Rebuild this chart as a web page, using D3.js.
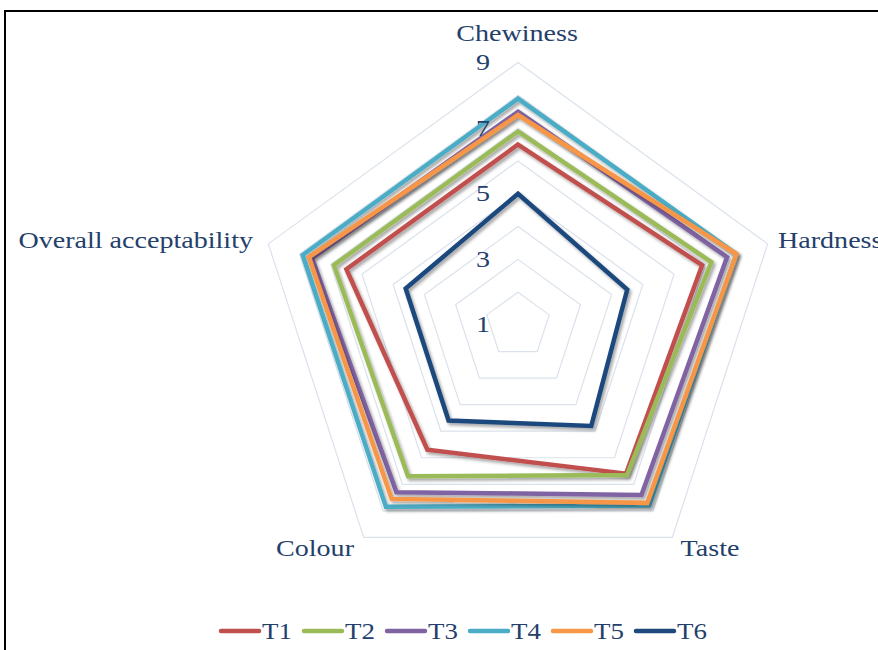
<!DOCTYPE html>
<html>
<head>
<meta charset="utf-8">
<script src="https://cdn.jsdelivr.net/npm/d3@7"></script>
<style>
  body { margin: 0; background: #fff; }
  svg text { font-family: "Liberation Serif", "Times New Roman", serif; fill: #243f6b; }
</style>
</head>
<body>
<div id="chart"></div>
<script>
var width = 878, height = 650;

// axes and series
var axes = ["Chewiness", "Hardness", "Taste", "Colour", "Overall acceptability"];
var series = ["T1", "T2", "T3", "T4", "T5", "T6"];
var colors = ["#c0504d", "#9bbb59", "#8064a2", "#4bacc6", "#f79646", "#1f497d"];
var T1 = [6.5, 6.9, 6.6, 5.7, 6.5];
var T2 = [6.9, 7.2, 6.65, 6.7, 6.9];
var T3 = [7.5, 7.7, 7.4, 7.3, 7.6];
var T4 = [7.9, 8.0, 7.8, 7.85, 7.9];
var T5 = [7.4, 8.0, 7.7, 7.55, 7.7];
var T6 = [5.0, 4.5, 4.8, 4.6, 4.6];
var values = [T1, T2, T3, T4, T5, T6];
var tickLabels = [1, 3, 5, 7, 9];
var gridLevels = [2, 3, 4, 5, 6, 7, 8, 9];

var cx = 518, cy = 325;
var stretch = 1.17; // the text in the picture is drawn wide

var svg = d3.select("#chart").append("svg").attr("width", width).attr("height", height);

var defs = svg.append("defs");
var f = defs.append("filter").attr("id", "shadow")
    .attr("x", "-10%").attr("y", "-10%").attr("width", "130%").attr("height", "130%");
f.append("feDropShadow").attr("dx", 2).attr("dy", 2.5).attr("stdDeviation", 1.5)
    .attr("flood-color", "#000").attr("flood-opacity", 0.35);

// outer frame
svg.append("rect").attr("x", 5).attr("y", 11).attr("width", 900).attr("height", 700)
    .attr("fill", "none").attr("stroke", "#000").attr("stroke-width", 2);

var r = d3.scaleLinear().domain([1, 9]).range([0, 262.5]);
var angle = d3.scalePoint().domain(d3.range(axes.length + 1)).range([0, 2 * Math.PI]);

function pt(i, v) {
  var a = angle(i % axes.length);
  return [cx + Math.sin(a) * r(v), cy - Math.cos(a) * r(v)];
}

var line = d3.line();

// grid pentagons
svg.append("g").selectAll("path").data(gridLevels).enter().append("path")
  .attr("d", function(lv) { return line(axes.map(function(a, i) { return pt(i, lv); })) + "Z"; })
  .attr("fill", "none")
  .attr("stroke", "#dbe2ec")
  .attr("stroke-width", 1.2);

// series
svg.append("g").selectAll("path").data(values).enter().append("path")
  .attr("d", function(d) { return line(d.map(function(v, i) { return pt(i, v); })) + "Z"; })
  .attr("fill", "none")
  .attr("stroke", function(d, i) { return colors[i]; })
  .attr("stroke-width", 4.5)
  .attr("stroke-linejoin", "miter")
  .attr("filter", "url(#shadow)");

// tick labels along the top axis
svg.append("g").selectAll("text").data(tickLabels).enter().append("text")
  .attr("transform", function(d) { return "translate(" + (cx - 35) + "," + (cy - r(d) - 1) + ") scale(" + stretch + ",1)"; })
  .attr("dy", "0.35em")
  .attr("text-anchor", "middle")
  .style("font-size", "24px")
  .text(function(d) { return d; });

// axis labels
var labelPos = [
  {x: 517, y: 33, anchor: "middle"},
  {x: 778, y: 240, anchor: "start"},
  {x: 710, y: 548, anchor: "middle"},
  {x: 315, y: 548, anchor: "middle"},
  {x: 253, y: 240, anchor: "end"}
];
svg.append("g").selectAll("text").data(axes).enter().append("text")
  .attr("transform", function(d, i) { return "translate(" + labelPos[i].x + "," + labelPos[i].y + ") scale(" + stretch + ",1)"; })
  .attr("dy", "0.35em")
  .attr("text-anchor", function(d, i) { return labelPos[i].anchor; })
  .style("font-size", "24px")
  .text(function(d) { return d; });

// legend
var legend = svg.append("g").selectAll("g").data(series).enter().append("g")
  .attr("transform", function(d, i) { return "translate(" + (221 + i * 83) + ",631)"; });
legend.append("line")
  .attr("x1", 0).attr("x2", 38).attr("y1", 0).attr("y2", 0)
  .attr("stroke", function(d, i) { return colors[i]; })
  .attr("stroke-width", 4.5)
  .attr("stroke-linecap", "round");
legend.append("text")
  .attr("transform", "translate(41,0) scale(" + stretch + ",1)")
  .attr("dy", "0.35em")
  .style("font-size", "23px")
  .text(function(d) { return d; });
</script>
</body>
</html>
